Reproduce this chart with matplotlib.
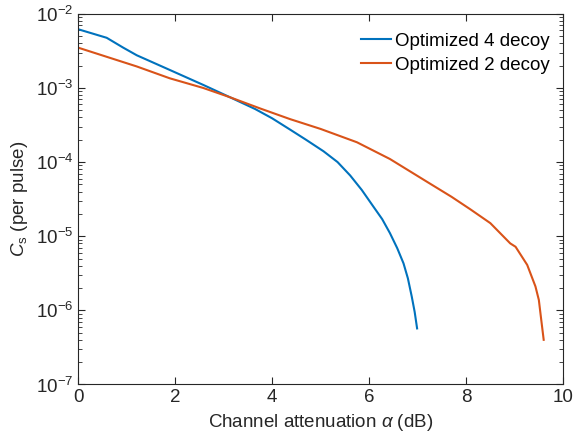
import matplotlib
matplotlib.use("Agg")
import matplotlib.pyplot as plt
from matplotlib.ticker import LogLocator, NullFormatter

plt.rcParams['font.family'] = ['Liberation Sans', 'DejaVu Sans']
plt.rcParams['mathtext.fontset'] = 'custom'
plt.rcParams['mathtext.rm'] = 'Liberation Sans'
plt.rcParams['mathtext.it'] = 'Liberation Sans:italic'

# Optimized 4 decoy
x4 = [0.0, 0.59, 0.93, 1.21, 1.89, 2.58, 3.13, 3.65, 4.0, 4.38, 4.7, 5.06, 5.35, 5.61,
      5.85, 6.09, 6.27, 6.43, 6.58, 6.71, 6.80, 6.88, 6.94, 6.99]
y4 = [6.2e-3, 4.75e-3, 3.5e-3, 2.76e-3, 1.75e-3, 1.1e-3, 7.5e-4, 5.2e-4, 3.9e-4, 2.72e-4,
      2.0e-4, 1.4e-4, 1.0e-4, 6.6e-5, 4.2e-5, 2.5e-5, 1.7e-5, 1.1e-5, 6.9e-6, 4.3e-6,
      2.7e-6, 1.53e-6, 9.5e-7, 5.7e-7]

# Optimized 2 decoy
x2 = [0.0, 1.21, 1.89, 2.58, 3.13, 3.75, 4.37, 5.0, 5.75, 6.43, 7.26, 7.7, 8.09, 8.5,
      8.91, 9.02, 9.26, 9.43, 9.50, 9.55, 9.60]
y2 = [3.5e-3, 1.95e-3, 1.35e-3, 1.0e-3, 7.5e-4, 5.3e-4, 3.8e-4, 2.8e-4, 1.85e-4, 1.1e-4,
      5.1e-5, 3.4e-5, 2.3e-5, 1.5e-5, 8.0e-6, 7.2e-6, 4.1e-6, 2.1e-6, 1.38e-6, 7.4e-7,
      4.0e-7]

fig = plt.figure(figsize=(5.74, 4.46), dpi=100)
ax = fig.add_axes([0.136, 0.138, 0.845, 0.831])

ax.plot(x4, y4, color='#0072BD', lw=1.5, label='Optimized 4 decoy')
ax.plot(x2, y2, color='#D95319', lw=1.5, label='Optimized 2 decoy')

ax.set_yscale('log')
ax.set_xlim(0, 10)
ax.set_ylim(1e-7, 1e-2)
ax.set_xticks([0, 2, 4, 6, 8, 10])
ax.yaxis.set_major_locator(LogLocator(base=10, numticks=10))
ax.yaxis.set_minor_locator(LogLocator(base=10, subs=range(2, 10), numticks=20))
ax.yaxis.set_minor_formatter(NullFormatter())

ax.tick_params(which='both', direction='in', top=True, right=True,
               colors='#262626', labelsize=13.5)
ax.tick_params(which='major', length=5)
ax.tick_params(which='minor', length=3)
for s in ax.spines.values():
    s.set_color('#262626')
    s.set_linewidth(0.8)

ax.set_xlabel(r'Channel attenuation $\alpha$ (dB)', fontsize=13.5, color='#262626')
ax.set_ylabel(r'$C_\mathrm{s}$ (per pulse)', fontsize=13.5, color='#262626')

ax.legend(loc='upper right', bbox_to_anchor=(1.0, 0.984), frameon=False,
          fontsize=13.5, handlelength=1.6, handletextpad=0.2,
          borderaxespad=0.3, labelspacing=0.35)

fig.savefig('out.png', dpi=100)
